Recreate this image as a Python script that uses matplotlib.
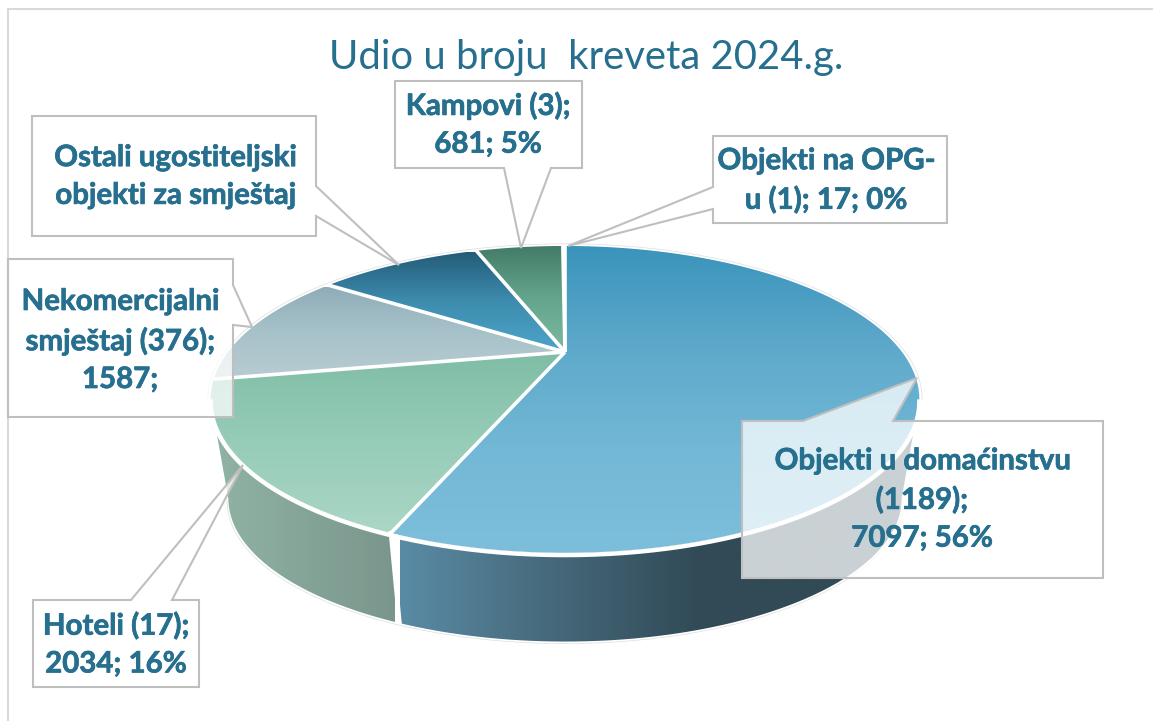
import matplotlib
matplotlib.use('Agg')
import matplotlib.pyplot as plt
import matplotlib.patheffects as pe
import numpy as np
from matplotlib.colors import LinearSegmentedColormap
from matplotlib.patches import Polygon

plt.rcParams['font.family'] = ['Lato', 'DejaVu Sans']

# broj kreveta po vrsti smjestaja (Ostali nema vrijednost na slici, procjena)
names = ['Objekti u domaćinstvu', 'Hoteli', 'Nekomercijalni', 'Ostali', 'Kampovi', 'OPG']
beds = [7097, 2034, 1587, 1257, 681, 17]

labels = ['Objekti u domaćinstvu\n(1189);\n7097; 56%',
          'Hoteli (17);\n2034; 16%',
          'Nekomercijalni\nsmještaj (376);\n1587;',
          'Ostali ugostiteljski\nobjekti za smještaj',
          'Kampovi (3);\n681; 5%',
          'Objekti na OPG-\nu (1); 17; 0%']

top_colors = [['#3a94bb', '#5ea9cb', '#73b8d6', '#7dbfdb'],
              ['#7fbda5', '#96ccb8', '#abd6c6'],
              ['#8fadb8', '#a8c2ca', '#b8ccd2'],
              ['#235c78', '#3d8cae', '#4ca4c8'],
              ['#437c68', '#64a58d', '#7ab9a0'],
              ['#437c68', '#64a58d', '#7ab9a0']]
top_range = [(246, 553), (350, 533), (287, 380), (252, 350), (246, 350), (246, 350)]

text_color = '#266f8e'
edge_color = '#bfbfbf'

# parametri perspektive gornje plohe
CX, CY, A, B, K = 565, 352, 337, 138.8, 0.309
# donji rub je gornji skaliran prema tocki nedogleda
VY, SX, SY = 1838, 0.95, 0.931


def rim(t0, t1, sx=1.0, sy=1.0):
    t = np.radians(np.linspace(t0, t1, 240))
    u, v = np.sin(t), np.cos(t)
    w = 1 + K * v
    x = CX + A * u / w
    y = CY - B * v / w
    return CX + sx * (x - CX), VY + sy * (y - VY)


def gradient(ax, poly_xy, colors, horizontal, lo, hi):
    cmap = LinearSegmentedColormap.from_list('g', colors)
    g = np.linspace(0, 1, 256)
    if horizontal:
        img = ax.imshow(g[None, :], extent=(lo, hi, 721, 0), cmap=cmap, aspect='auto', zorder=2)
    else:
        img = ax.imshow(g[:, None], extent=(0, 1153, hi, lo), cmap=cmap, aspect='auto', zorder=2)
    patch = Polygon(poly_xy, closed=True, transform=ax.transData, fc='none', ec='none')
    ax.add_patch(patch)
    img.set_clip_path(patch)


fig = plt.figure(figsize=(11.53, 7.21), dpi=100)
ax = fig.add_axes([0, 0, 1, 1])

angles = np.concatenate([[0], np.cumsum(beds) / np.sum(beds) * 360])

# bocne stijenke
wx, wy = rim(108, angles[1])
bx, by = rim(108, angles[1], SX, SY)
gradient(ax, np.r_[np.c_[wx, wy], np.c_[bx, by][::-1]], ['#5a8ba5', '#46697b', '#314a56', '#314a56', '#314a56'],
         True, 400, 1000)
wx, wy = rim(angles[1], 252)
bx, by = rim(angles[1], 252, SX, SY)
gradient(ax, np.r_[np.c_[wx, wy], np.c_[bx, by][::-1]], ['#90b3a4', '#7a968c'], True, 215, 395)

# razdjelnik izmedu stijenki
x0, y0 = rim(angles[1], angles[1])
x1, y1 = rim(angles[1], angles[1], SX, SY)
ax.plot([x0[0], x1[0]], [y0[0], y1[0] + 1], color='white', lw=3.2, zorder=3)

# gornja ploha
for i in range(len(beds)):
    x, y = rim(angles[i], angles[i + 1])
    xy = np.r_[[[CX, CY]], np.c_[x, y]]
    gradient(ax, xy, top_colors[i], False, top_range[i][0], top_range[i][1])
for i in range(len(beds)):
    x, y = rim(angles[i], angles[i])
    ax.plot([CX, x[0]], [CY, y[0]], color='white', lw=2.6, zorder=4, solid_capstyle='butt')

# bijeli pojas na prednjem rubu
x, y = rim(108, 252)
ax.plot(x, y + 2.2, color='white', lw=3.2, zorder=4)

# tanki vanjski obrub
x, y = rim(-108, 108)
ax.plot(CX + 1.008 * (x - CX), 400 + 1.014 * (y - 400), color='#dedede', lw=0.5, zorder=4)
x, y = rim(108, 252, SX * 1.004, SY)
ax.plot(x, y + 2, color='#dedede', lw=0.5, zorder=4)

# okviri s oblacicem
callouts = [
    [(742, 421), (803, 421), (917, 378), (893, 421), (1103, 421), (1103, 578), (742, 578)],
    [(33, 600), (131, 600), (243, 465), (172, 600), (199, 600), (199, 687), (33, 687)],
    [(8, 259), (233, 259), (233, 285), (252, 327), (233, 325), (233, 417), (8, 417)],
    [(32, 116), (316, 116), (316, 186), (399, 265), (316, 216), (316, 236), (32, 236)],
    [(395, 81), (582, 81), (582, 168), (551, 168), (521, 248), (504, 168), (395, 168)],
    [(713, 136), (947, 136), (947, 223), (713, 223), (713, 209), (568, 246), (713, 187)],
]
centers = [(922, 500), (116, 645), (120, 341), (175, 177), (488, 125), (826, 181)]
for pts, lab, c in zip(callouts, labels, centers):
    ax.add_patch(Polygon(pts, closed=True, fc=(1, 1, 1, 0.75), ec=edge_color, lw=1.5, zorder=5, joinstyle='miter'))
    t = ax.text(c[0], c[1], lab, ha='center', va='center', color=text_color, fontsize=21.2,
                fontweight='bold', linespacing=1.56, zorder=6)
    t.set_path_effects([pe.withStroke(linewidth=0.5, foreground=text_color)])

ax.text(586, 57, 'Udio u broju  kreveta 2024.g.', ha='center', va='center', color=text_color,
        fontsize=28.8, zorder=6)

# okvir grafikona
ax.plot([1153, 8, 8], [9, 9, 721], color='#d9d9d9', lw=1.5, zorder=1)

ax.set_xlim(0, 1153)
ax.set_ylim(721, 0)
ax.axis('off')
fig.savefig('out.png', dpi=100)
